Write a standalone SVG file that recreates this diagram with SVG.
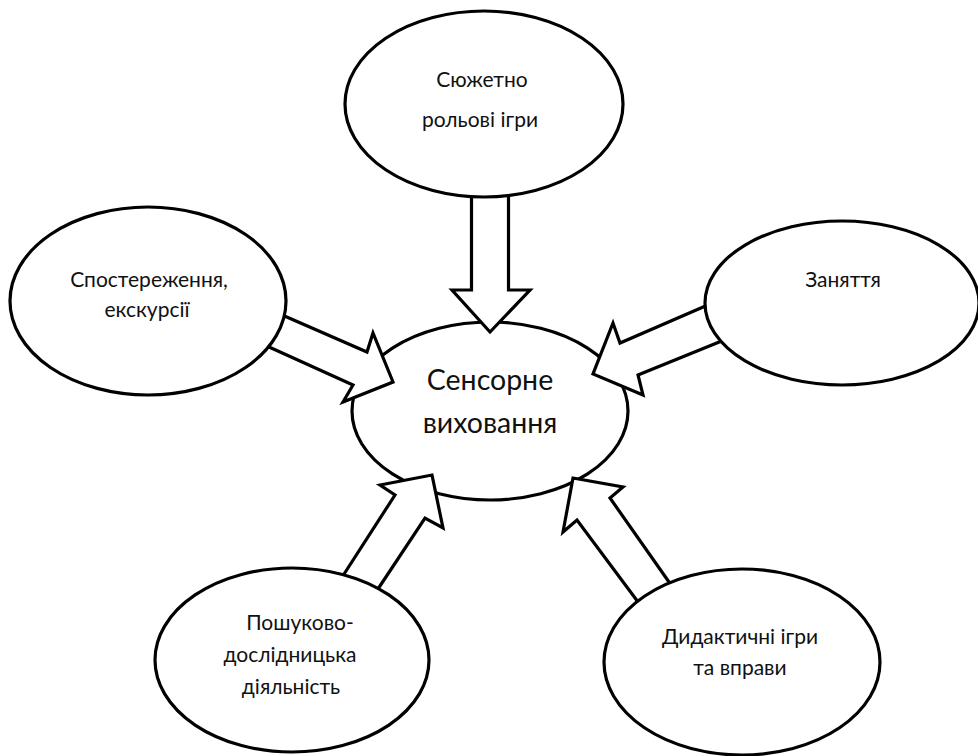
<svg xmlns="http://www.w3.org/2000/svg" width="978" height="756" viewBox="0 0 978 756">
<style>
.node ellipse{fill:#fff;stroke:#000;stroke-width:3.2}
.arrow{fill:#fff;stroke:#000;stroke-width:3.2;stroke-linejoin:miter;stroke-miterlimit:10}
.lbl{font-family:Lato,"Noto Sans",sans-serif;font-size:21px;fill:#111;text-anchor:middle}
.big{font-size:28.5px}
</style>
<rect width="978" height="756" fill="#fff"/>
<g id="center">
<ellipse cx="490" cy="411" rx="138" ry="89" style="fill:#fff;stroke:#000;stroke-width:3.2"/>
<text class="lbl big" x="490" y="390">Сенсорне</text>
<text class="lbl big" x="490" y="433">виховання</text>
</g>
<g id="connectors">
<path class="arrow" d="M471.5,185 L471.5,290 L452,290 L490,332 L530,290 L508.5,290 L508.5,185"/>
<path class="arrow" d="M258,342 L353,385 L343,402 L393,382 L373,333 L367,352 L273,311"/>
<path class="arrow" d="M717,301 L620,343 L613,323 L593,374 L643,395 L638,375 L734,336"/>
<path class="arrow" d="M337,585 L395,495 L380,485 L432,475 L443,528 L425,518 L370,601"/>
<path class="arrow" d="M676,592 L610,498 L623,487 L573,478 L563,532 L577,520 L644,610"/>
</g>
<g id="top" class="node">
<ellipse cx="484" cy="104" rx="139" ry="93"/>
<text class="lbl" x="482" y="87">Сюжетно</text>
<text class="lbl" x="480" y="127">рольові ігри</text>
</g>
<g id="left" class="node">
<ellipse cx="148" cy="301" rx="138" ry="94"/>
<text class="lbl" x="149" y="287">Спостереження,</text>
<text class="lbl" x="147" y="317">екскурсії</text>
</g>
<g id="right" class="node">
<ellipse cx="842" cy="303" rx="137" ry="82"/>
<text class="lbl" x="843" y="287">Заняття</text>
</g>
<g id="bottomleft" class="node">
<ellipse cx="292" cy="660" rx="137" ry="92"/>
<text class="lbl" x="300" y="630">Пошуково-</text>
<text class="lbl" x="290" y="662">дослідницька</text>
<text class="lbl" x="291" y="694">діяльність</text>
</g>
<g id="bottomright" class="node">
<ellipse cx="742" cy="662" rx="138" ry="93"/>
<text class="lbl" x="740" y="644">Дидактичні ігри</text>
<text class="lbl" x="740" y="675">та вправи</text>
</g>
</svg>
